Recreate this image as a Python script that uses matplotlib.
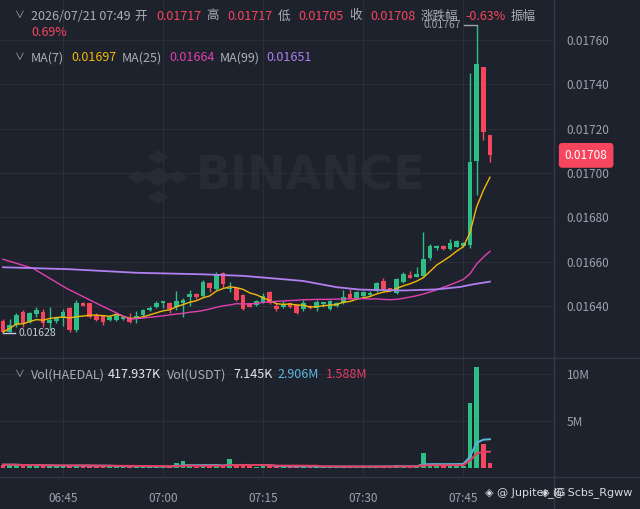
import numpy as np
import pandas as pd
import matplotlib
matplotlib.use("Agg")
import matplotlib.pyplot as plt
from matplotlib.patches import RegularPolygon

plt.rcParams['font.family'] = ['Noto Sans CJK SC', 'DejaVu Sans']

# 1m candles 06:36 - 07:49, prices in units of 1e-5
times = pd.date_range("2026-07-21 06:36", "2026-07-21 07:49", freq="1min")
opens = [1633.4, 1628.4, 1631.4, 1637.4, 1632.9, 1636.4, 1637.4, 1632.5, 1633.0, 1634.4,
         1639.0, 1629.2, 1641.5, 1641.2, 1635.5, 1635.5, 1633.7, 1633.7, 1634.3, 1634.4,
         1634.7, 1635.9, 1638.2, 1639.7, 1641.2, 1641.5, 1639.7, 1641.5, 1644.0, 1645.4,
         1644.6, 1650.2, 1647.5, 1655.0, 1647.5, 1648.0, 1645.0, 1641.2, 1640.6, 1641.9,
         1646.3, 1640.1, 1639.4, 1641.2, 1640.5, 1638.6, 1640.1, 1639.0, 1640.9, 1638.6,
         1640.1, 1641.2, 1645.3, 1643.7, 1644.7, 1644.9, 1646.9, 1651.3, 1648.0, 1645.7,
         1650.7, 1654.0, 1653.2, 1653.7, 1661.5, 1666.0, 1667.1, 1665.7, 1666.8, 1667.2,
         1667.5, 1705.6, 1748.0, 1717.0]
highs = [1634.0, 1634.1, 1637.0, 1638.4, 1637.4, 1639.7, 1638.5, 1639.7, 1635.0, 1638.6,
         1639.5, 1642.7, 1642.0, 1641.5, 1637.0, 1636.0, 1636.0, 1636.5, 1635.5, 1637.0,
         1637.9, 1638.8, 1640.0, 1642.4, 1642.3, 1641.9, 1646.9, 1643.6, 1647.2, 1645.9,
         1651.8, 1651.0, 1655.2, 1655.5, 1651.0, 1648.5, 1645.3, 1641.5, 1642.7, 1646.0,
         1646.8, 1641.2, 1642.3, 1641.5, 1640.6, 1642.7, 1640.5, 1642.7, 1641.9, 1642.8,
         1642.0, 1647.0, 1647.5, 1646.6, 1646.6, 1646.7, 1651.0, 1652.5, 1648.3, 1652.8,
         1655.3, 1655.7, 1657.4, 1673.3, 1667.9, 1667.6, 1667.6, 1670.4, 1669.8, 1669.0,
         1745.0, 1767.0, 1748.0, 1717.0]
lows = [1628.0, 1628.2, 1630.7, 1630.7, 1632.5, 1635.2, 1630.3, 1629.2, 1632.5, 1631.0,
        1628.1, 1628.4, 1639.8, 1634.8, 1633.0, 1631.4, 1633.0, 1633.2, 1633.8, 1632.5,
        1632.5, 1635.3, 1637.8, 1639.2, 1639.1, 1636.7, 1638.2, 1635.2, 1640.0, 1643.3,
        1643.9, 1646.5, 1647.1, 1648.0, 1646.5, 1642.3, 1638.2, 1639.5, 1639.9, 1641.4,
        1640.8, 1637.8, 1638.9, 1639.2, 1636.4, 1637.8, 1638.5, 1637.8, 1639.6, 1638.3,
        1639.6, 1640.8, 1643.2, 1643.4, 1644.2, 1644.5, 1646.5, 1647.2, 1646.7, 1645.4,
        1650.2, 1652.5, 1653.0, 1653.5, 1660.9, 1665.5, 1665.3, 1665.3, 1666.5, 1666.8,
        1666.0, 1690.0, 1715.0, 1705.0]
closes = [1628.3, 1631.4, 1635.9, 1632.2, 1637.0, 1638.2, 1632.2, 1633.7, 1634.4, 1637.4,
          1629.2, 1641.2, 1640.0, 1635.2, 1633.7, 1632.9, 1635.2, 1635.9, 1635.2, 1632.9,
          1635.5, 1638.2, 1639.2, 1641.5, 1642.3, 1638.5, 1642.3, 1642.7, 1645.4, 1644.0,
          1651.0, 1648.0, 1654.0, 1650.0, 1648.3, 1642.7, 1638.5, 1639.7, 1642.1, 1644.5,
          1641.2, 1638.6, 1640.5, 1639.7, 1636.7, 1641.2, 1639.0, 1642.0, 1641.8, 1642.3,
          1641.5, 1644.2, 1643.5, 1646.2, 1646.2, 1646.0, 1650.2, 1647.7, 1646.9, 1652.2,
          1654.3, 1652.8, 1654.3, 1661.2, 1667.2, 1667.2, 1665.7, 1668.3, 1669.3, 1668.3,
          1705.1, 1749.3, 1718.7, 1708.0]
# volume in millions HAEDAL
volumes = [0.32, 0.32, 0.30, 0.20, 0.25, 0.22, 0.20, 0.22, 0.18, 0.20,
           0.30, 0.25, 0.18, 0.20, 0.15, 0.20, 0.15, 0.12, 0.15, 0.15,
           0.12, 0.10, 0.12, 0.15, 0.12, 0.15, 0.45, 0.70, 0.15, 0.12,
           0.20, 0.15, 0.18, 0.15, 0.95, 0.20, 0.22, 0.15, 0.12, 0.15,
           0.20, 0.15, 0.12, 0.10, 0.15, 0.12, 0.10, 0.12, 0.08, 0.15,
           0.10, 0.12, 0.15, 0.10, 0.12, 0.10, 0.15, 0.18, 0.10, 0.25,
           0.15, 0.12, 0.10, 1.55, 0.30, 0.20, 0.15, 0.20, 0.18, 0.15,
           6.95, 10.8, 2.50, 0.52]

# moving averages read off the chart where the history is not visible
ma25_head_idx = [0, 4.5, 9.5, 14.5, 19, 22]
ma25_head = [1661.1, 1657.0, 1648.0, 1640.5, 1634.0, 1634.9]
ma99_idx = [0, 10, 20, 30, 36, 40, 45, 50, 53.5, 60, 65, 68.5, 70.5, 73]
ma99_vals = [1657.5, 1656.6, 1655.0, 1654.3, 1653.6, 1652.6, 1651.3, 1648.5, 1647.4,
             1647.0, 1647.5, 1648.6, 1649.8, 1651.0]

price_ticks = [0.0164, 0.0166, 0.0168, 0.0170, 0.0172, 0.0174, 0.0176]
time_ticks = ["06:45", "07:00", "07:15", "07:30", "07:45"]

df = pd.DataFrame({"o": opens, "h": highs, "l": lows, "c": closes, "v": volumes}, index=times)
df[["o", "h", "l", "c"]] = df[["o", "h", "l", "c"]] / 1e5
x = np.arange(len(df))
ma7 = df["c"].rolling(7, min_periods=1).mean()
ma25 = df["c"].rolling(25).mean()
vma1 = df["v"].rolling(7, min_periods=1).mean()
vma2 = df["v"].rolling(14, min_periods=1).mean()

bg = "#1e222d"
grid = "#2a2e39"
sep = "#333844"
green = "#2ebd85"
red = "#f6465d"
gray = "#9ca3ad"
W, H = 640, 509

fig = plt.figure(figsize=(6.4, 5.09), dpi=100, facecolor=bg)
ax = fig.add_axes([0, 1 - 358 / H, 554 / W, 358 / H], facecolor=bg)
axv = fig.add_axes([0, 1 - 477 / H, 554 / W, 119 / H], facecolor=bg, sharex=ax)

up = df["c"] >= df["o"]
cols = np.where(up, green, red)

# watermark
ax.text(0.56, 0.505, "BINANCE", transform=ax.transAxes, fontsize=33, fontweight="bold",
        color="#272b36", ha="center", va="center", family="DejaVu Sans", zorder=0)
for dx, dy, r in [(0, 0, 9), (-20, 0, 6), (20, 0, 6), (0, -20, 6), (0, 20, 6)]:
    cx, cy = (158 + dx) / 554, 1 - (177 + dy) / 358
    ax.add_patch(RegularPolygon((cx, cy), 4, radius=r / 358, transform=ax.transAxes,
                                color="#272b36", zorder=0, orientation=0))

# candles
ax.vlines(x, df["l"], df["h"], colors=cols, lw=1, zorder=2)
body_lo = np.minimum(df["o"], df["c"])
body_h = np.maximum((df["c"] - df["o"]).abs(), 0.0000045)
ax.bar(x, body_h, bottom=body_lo, width=0.7, color=cols, zorder=3)

ax.plot(x, ma7, color="#f0b90b", lw=1, zorder=4)
ax.plot(np.r_[ma25_head_idx, x[24:]], np.r_[np.array(ma25_head) / 1e5, ma25.values[24:]],
        color="#e040b0", lw=1, zorder=4)
ax.plot(ma99_idx, np.array(ma99_vals) / 1e5, color="#b07ff0", lw=1.3, zorder=4)

ax.set_xlim(-0.45, 82.6)
ax.set_ylim(0.0161652, 0.0177815)
ax.set_yticks(price_ticks)
ax.yaxis.set_major_formatter(matplotlib.ticker.FormatStrFormatter("%.5f"))
ax.yaxis.tick_right()
ax.tick_params(axis="y", length=0, pad=9, labelcolor=gray, labelsize=8.5)
ax.tick_params(axis="x", length=0, labelbottom=False)
ax.grid(color=grid, lw=0.8)
for s in ax.spines.values():
    s.set_visible(False)

# high / low markers
px = 1 / 6.67
imax, hmax = int(np.argmax(df["h"])), df["h"].max()
ax.plot([imax - 13 * px, imax], [hmax, hmax], color=gray, lw=1, zorder=5)
ax.text(imax - 16 * px, hmax, f"{hmax:.5f}", color=gray, fontsize=7.5, ha="right", va="center")
imin, lmin = int(np.argmin(df["l"])), df["l"].min()
ax.plot([imin, imin + 12 * px], [lmin, lmin], color="#c8ccd4", lw=1, zorder=5)
ax.text(imin + 15 * px, lmin, f"{lmin:.5f}", color="#c8ccd4", fontsize=7.5, ha="left", va="center")

# last price tag
last = df["c"].iloc[-1]
ax.text(1.058, last, f"{last:.5f}", transform=ax.get_yaxis_transform(), color="white",
        fontsize=8.5, ha="center", va="center", clip_on=False,
        bbox=dict(boxstyle="round,pad=0.5,rounding_size=0.3", fc=red, ec="none"))

# volume pane
axv.bar(x, df["v"], width=0.7, color=cols, zorder=3)
axv.plot(x, vma1, color="#5ab8da", lw=1.4, zorder=4)
axv.plot(x, vma2, color="#e63d62", lw=1.4, zorder=4)
axv.set_ylim(-1.0, 11.73)
axv.set_yticks([5, 10])
axv.set_yticklabels(["5M", "10M"])
axv.yaxis.tick_right()
axv.tick_params(axis="y", length=0, pad=9, labelcolor=gray, labelsize=8.5)
axv.set_xticks([9, 24, 39, 54, 69])
axv.set_xticklabels(time_ticks)
axv.tick_params(axis="x", length=0, pad=11, labelcolor=gray, labelsize=8.5)
axv.grid(color=grid, lw=0.8)
for s in axv.spines.values():
    s.set_visible(False)

# pane separators
fig.add_artist(plt.Line2D([554 / W, 554 / W], [0, 1], color=sep, lw=1))
fig.add_artist(plt.Line2D([0, 1], [1 - 358 / H, 1 - 358 / H], color=sep, lw=1))
fig.add_artist(plt.Line2D([0, 1], [1 - 477 / H, 1 - 477 / H], color=sep, lw=1))


def put(xp, yp, s, c, size=9, **kw):
    fig.text(xp / W, 1 - yp / H, s, color=c, fontsize=size, va="center", ha="left", **kw)


lbl = "#a9aeb8"
row1 = [(31, "2026/07/21 07:49", lbl), (134, "开", lbl), (156, "0.01717", red),
        (206, "高", lbl), (227, "0.01717", red), (278, "低", lbl), (298, "0.01705", red),
        (349, "收", lbl), (370, "0.01708", red), (421, "涨跌幅", lbl), (465, "-0.63%", red),
        (511, "振幅", lbl)]
for xp, s, c in row1:
    put(xp, 16, s, c)
put(31, 32, "0.69%", red)
row2 = [(31, "MA(7)", lbl), (71, "0.01697", "#f0b90b"), (122, "MA(25)", lbl),
        (169, "0.01664", "#e040b0"), (220, "MA(99)", lbl), (266, "0.01651", "#b07ff0")]
for xp, s, c in row2:
    put(xp, 58, s, c)
row3 = [(31, "Vol(HAEDAL)", lbl), (108, "417.937K", "#e6e8ec"),
        (167, "Vol(USDT)", lbl), (233, "7.145K", "#e6e8ec"), (277, "2.906M", "#5ab8da"),
        (326, "1.588M", "#e63d62")]
for xp, s, c in row3:
    put(xp, 375, s, c)
# collapse chevrons
for yp in (15, 57, 374):
    put(15, yp, "∨", lbl, size=7)

# corner watermark
put(485, 493, "◈ @ Jupiter_IG", "#d8dbe0", size=8, family=["DejaVu Sans"])
put(541, 493, "◈ @ Scbs_Rgww", "#d8dbe0", size=8, family=["DejaVu Sans"])

fig.savefig("out.png", dpi=100, facecolor=bg)
